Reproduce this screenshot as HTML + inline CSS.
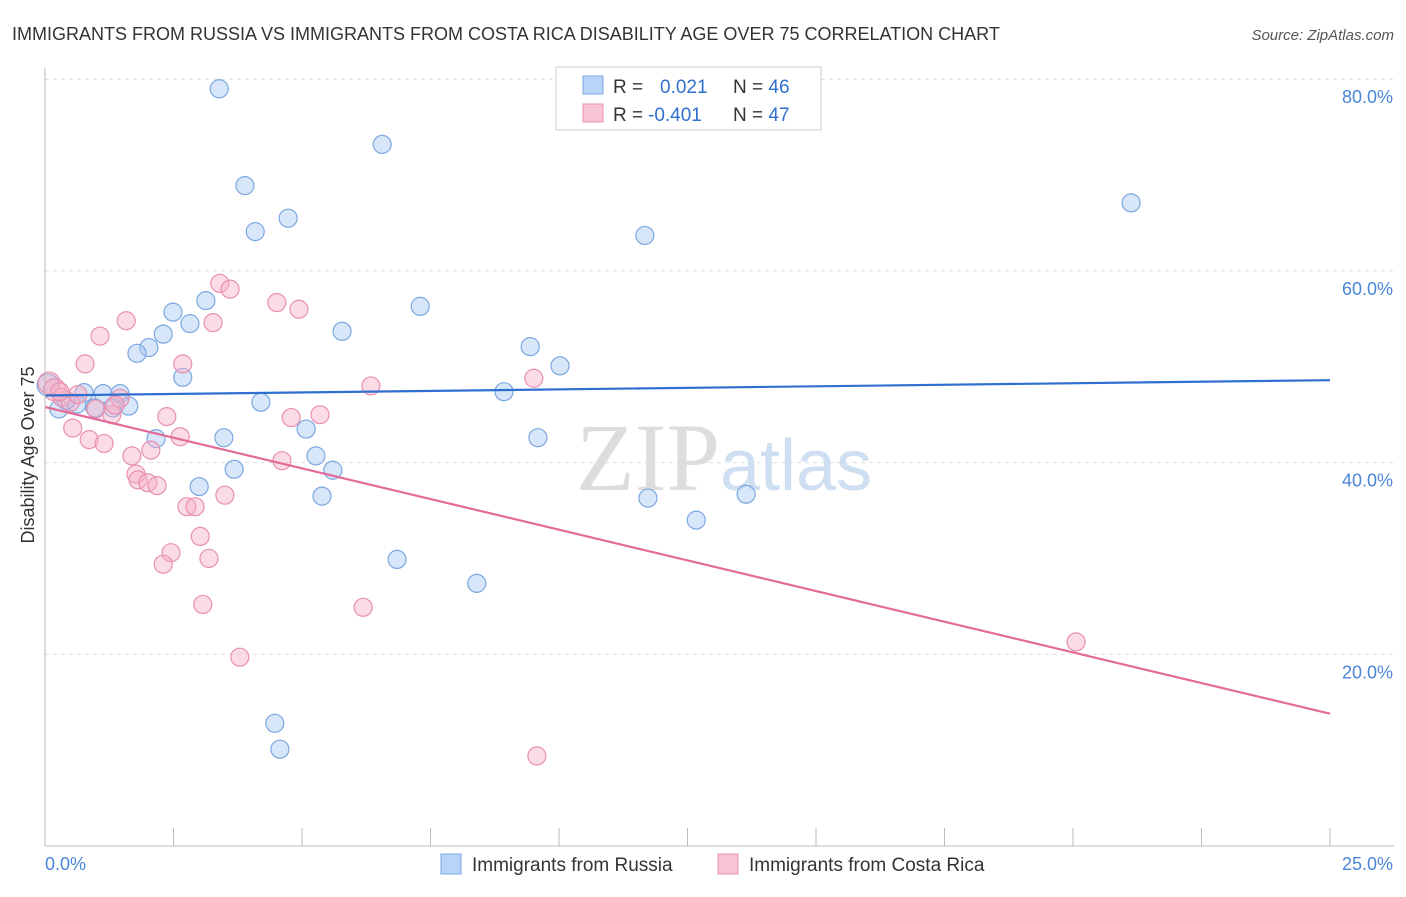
<!DOCTYPE html>
<html><head><meta charset="utf-8"><style>
body{margin:0;background:#fff;font-family:"Liberation Sans",sans-serif}
</style></head><body>
<svg id="chart" width="1406" height="892" xmlns="http://www.w3.org/2000/svg">
<text x="12" y="40" font-size="18" fill="#333">IMMIGRANTS FROM RUSSIA VS IMMIGRANTS FROM COSTA RICA DISABILITY AGE OVER 75 CORRELATION CHART</text>
<text x="1394" y="40" font-size="15" fill="#555" font-style="italic" text-anchor="end">Source: ZipAtlas.com</text>
<g id="grid"></g>
<text x="720" y="490" font-size="96" fill="#ddd" text-anchor="end" font-family="Liberation Serif">ZIP</text>
<text x="720" y="490" font-size="72" fill="#cfdff2">atlas</text>
<g id="points"></g>
<g id="axes"></g>
<text transform="translate(34,455) rotate(-90)" font-size="18" fill="#333" text-anchor="middle">Disability Age Over 75</text>
<g>
<rect x="556" y="67" width="265" height="63" fill="#fff" stroke="#ccc"/>
<rect x="583" y="76" width="20" height="18" fill="#b8d4f6" stroke="#7ba7e0"/>
<rect x="583" y="104" width="20" height="18" fill="#f8c4d4" stroke="#e890b0"/>
<text x="613" y="93" font-size="19" fill="#333">R = <tspan x="660" fill="#2f6fd0">0.021</tspan><tspan x="733" fill="#333">N = </tspan><tspan fill="#2f6fd0">46</tspan></text>
<text x="613" y="121" font-size="19" fill="#333">R = <tspan x="648" fill="#2f6fd0">-0.401</tspan><tspan x="733" fill="#333">N = </tspan><tspan fill="#2f6fd0">47</tspan></text>
</g>
<g>
<rect x="441" y="854" width="20" height="20" fill="#b8d4f6" stroke="#7ba7e0"/>
<text x="472" y="871" font-size="19" fill="#333">Immigrants from Russia</text>
<rect x="718" y="854" width="20" height="20" fill="#f8c4d4" stroke="#e890b0"/>
<text x="749" y="871" font-size="19" fill="#333">Immigrants from Costa Rica</text>
</g>
</svg>
<script>
const yTicks=[20,40,60,80];
const yTickLabels=["20.0%","40.0%","60.0%","80.0%"];
const xTicks=[0,2.5,5,7.5,10,12.5,15,17.5,20,22.5,25];
const russiaX=[3.39,6.56,3.89,4.73,4.09,11.67,21.13,3.13,2.49,7.30,2.82,2.30,5.78,2.02,1.79,9.44,10.02,2.68,0.06,0.76,1.13,1.46,0.27,0.62,0.97,1.32,1.63,4.20,8.93,5.08,2.16,3.48,9.59,5.27,3.68,5.60,3.00,5.39,11.73,13.64,12.67,6.85,8.40,4.47,4.57,0.41];
const russiaY=[79.0,73.2,68.9,65.5,64.1,63.7,67.1,56.9,55.7,56.3,54.5,53.4,53.7,52.0,51.4,52.1,50.1,48.9,48.1,47.3,47.2,47.2,45.6,46.1,45.7,45.7,45.9,46.3,47.4,43.5,42.5,42.6,42.6,40.7,39.3,39.2,37.5,36.5,36.3,36.7,34.0,29.9,27.4,12.8,10.1,46.5];
const costaX=[0.08,0.19,0.33,0.49,0.64,0.78,1.07,1.58,3.40,3.60,4.51,4.94,3.27,2.68,6.34,9.51,1.46,1.30,2.37,4.79,5.35,0.54,0.86,1.15,2.63,2.06,1.69,4.61,1.77,1.81,2.00,2.18,3.50,2.76,2.92,3.02,2.45,3.19,2.30,3.07,6.19,3.79,20.06,9.57,0.99,1.36,0.29];
const costaY=[48.3,47.6,46.8,46.3,47.1,50.3,53.2,54.8,58.7,58.1,56.7,56.0,54.6,50.3,48.0,48.8,46.7,45.0,44.8,44.7,45.0,43.6,42.4,42.0,42.7,41.3,40.7,40.2,38.8,38.2,37.9,37.6,36.6,35.4,35.4,32.3,30.6,30.0,29.4,25.2,24.9,19.7,21.3,9.4,45.6,46.0,47.4];
const russiaTrend=[47.0,48.6];
const costaTrend=[45.8,13.8];
const NS="http://www.w3.org/2000/svg";
const X0=45,X1=1330,Y0=846,PY=9.585;
function sx(v){return X0+(X1-X0)*v/25;}
function sy(v){return Y0-v*PY;}
function mk(tag,attrs,parent){const e=document.createElementNS(NS,tag);for(const k in attrs)e.setAttribute(k,attrs[k]);parent.appendChild(e);return e;}
const grid=document.getElementById('grid'),axes=document.getElementById('axes'),pts=document.getElementById('points');
yTicks.forEach((t,i)=>{
 const l=mk('line',{x1:X0,x2:1394,y1:sy(t),y2:sy(t),stroke:'#ddd','stroke-dasharray':'4,4'},grid);
 
 
 const tx=mk('text',{x:1393,y:sy(t)+24,'font-size':18,fill:'#4a86d8','text-anchor':'end'},axes);
 tx.textContent=yTickLabels[i];
 
 
});
const ax=mk('line',{x1:X0,x2:1394,y1:Y0,y2:Y0,stroke:'#bbb'},axes);


const ay=mk('line',{x1:X0,x2:X0,y1:68,y2:Y0,stroke:'#bbb'},axes);


xTicks.forEach(t=>{
 const l=mk('line',{x1:sx(t),x2:sx(t),y1:Y0,y2:Y0-18,stroke:'#bbb'},axes);
 
 
});
const xl0=mk('text',{x:45,y:870,'font-size':18,fill:'#4a86d8'},axes);xl0.textContent='0.0%';


const xl1=mk('text',{x:1393,y:870,'font-size':18,fill:'#4a86d8','text-anchor':'end'},axes);xl1.textContent='25.0%';


function series(xs,ys,fill,stroke,name){
 xs.forEach((x,i)=>{
  const r=(x<0.2)?11:9;
  const c=mk('circle',{cx:sx(x),cy:sy(ys[i]),r:r,fill:fill,stroke:stroke,'stroke-width':1.2},pts);
  
  
 });
}
series(russiaX,russiaY,'rgba(168,200,242,0.45)','#7ba7e0','russia-point');
series(costaX,costaY,'rgba(246,176,200,0.45)','#e890b0','costa-rica-point');
const t1=mk('line',{x1:sx(0),x2:sx(25),y1:sy(russiaTrend[0]),y2:sy(russiaTrend[1]),stroke:'#2f6fd0','stroke-width':2.2},pts);


const t2=mk('line',{x1:sx(0),x2:sx(25),y1:sy(costaTrend[0]),y2:sy(costaTrend[1]),stroke:'#e46a98','stroke-width':2.2},pts);


</script>
</body></html>
